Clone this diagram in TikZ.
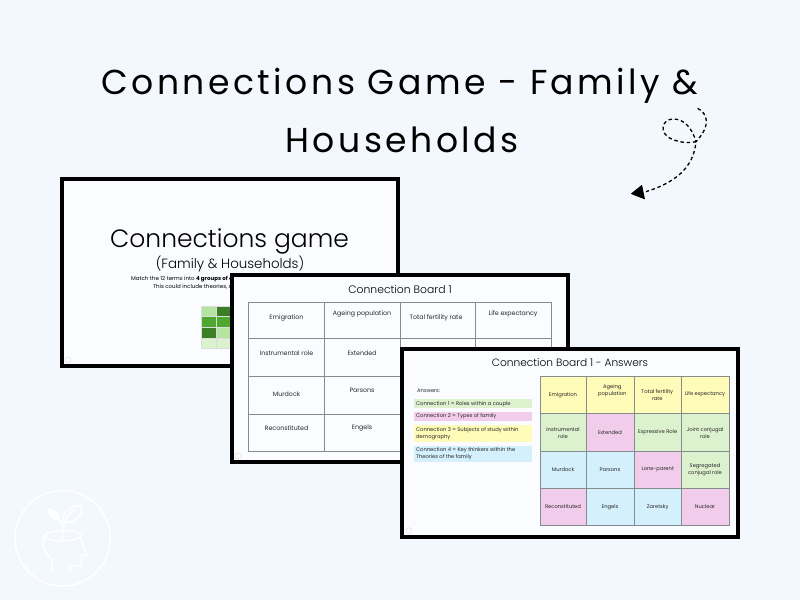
\documentclass[tikz,border=0pt]{standalone}
\usepackage{fontspec}
\setmainfont{Poppins}
\newfontfamily\titlefont[LetterSpace=10]{Poppins}
\newfontfamily\lightfont{Poppins Light}
\definecolor{pagebg}{HTML}{F3F8FF}
\definecolor{slidebg}{HTML}{FAFCFF}
\definecolor{grid}{HTML}{858C8E}
\definecolor{cy}{HTML}{FFFBB8}
\definecolor{cg}{HTML}{DCF2CF}
\definecolor{cp}{HTML}{F1CDEB}
\definecolor{cb}{HTML}{D4F0FC}
\definecolor{g1}{HTML}{B5E3A0}
\definecolor{g2}{HTML}{3B7F24}
\definecolor{g3}{HTML}{4EA72E}
\definecolor{g4}{HTML}{DCF2CF}
\tikzset{
  slide/.style={draw=black,line width=4pt,fill=slidebg},
  gridcell/.style={draw=grid,line width=0.7pt},
  titletext/.style={font=\titlefont\fontsize{34.6}{34.6}\selectfont,text=black,inner sep=0pt},
  cardlabel/.style={font=\fontsize{6.3}{8.6}\selectfont,text=black!85,align=center,inner sep=0pt},
  anslabel/.style={font=\fontsize{5.2}{7.2}\selectfont,text=black!85,align=center,inner sep=0pt},
  keylabel/.style={font=\fontsize{5.2}{7.2}\selectfont,text=black!85,align=left,anchor=west,inner sep=0pt},
  headline/.style={draw=white,line width=1.5pt,line cap=round,line join=round},
  dashline/.style={draw=black,line width=1.3pt,dash pattern=on 3.5pt off 2.8pt}
}
\newcommand{\cellbox}[5]{\filldraw[gridcell,fill=#5] (#1,#2) rectangle (#3,#4);}
\begin{document}
\begin{tikzpicture}[x=1pt,y=-1pt]
\useasboundingbox (0,0) rectangle (800,600);
\fill[pagebg] (0,0) rectangle (800,600);
% title
\node[titletext] (t1) at (400,86) {Connections Game - Family \&};
\node[titletext] (t2) at (402,140) {Households};
% dashed arrow
\begin{scope}[shift={(620,95)},x=0.3333pt,y=-0.3333pt]
\draw[dashline] (233,40) .. controls (262,55) and (275,90) .. (228,140)
  .. controls (215,95) and (190,72) .. (160,72)
  .. controls (125,72) and (115,115) .. (155,132)
  .. controls (180,143) and (205,145) .. (228,140)
  .. controls (222,200) and (190,255) .. (78,290);
\fill[black,line join=round,draw=black,line width=1pt] (65,272) -- (73,311) -- (35,296) -- cycle;
\end{scope}
% slide 1
\filldraw[slide] (62,179) rectangle (398,366);
\node[inner sep=0pt,font=\lightfont\fontsize{25}{25}\selectfont] (s1a) at (229.5,241.5) {Connections game};
\node[inner sep=0pt,font=\lightfont\fontsize{13.4}{13.4}\selectfont] (s1b) at (230,264) {(Family \& Households)};
\node[anchor=west,inner sep=0pt,font=\fontsize{5.5}{6}\selectfont] (s1c) at (131,279.5) {Match the 12 terms into \textbf{4 groups of 4}};
\node[anchor=west,inner sep=0pt,font=\fontsize{5.5}{6}\selectfont] (s1d) at (153,287) {This could include theories, so};
\begin{scope}[draw=white!70!grid,line width=0.4pt]
\filldraw[fill=g1] (201.5,306) rectangle (216,316.5);
\filldraw[fill=g2] (216,306) rectangle (231,316.5);
\filldraw[fill=g3] (201.5,316.5) rectangle (216,327.5);
\filldraw[fill=g3] (216,316.5) rectangle (231,327.5);
\filldraw[fill=g2] (201.5,327.5) rectangle (216,338);
\filldraw[fill=g1] (216,327.5) rectangle (231,338);
\filldraw[fill=g4] (201.5,338) rectangle (216,348.5);
\filldraw[fill=g4] (216,338) rectangle (231,348.5);
\end{scope}
\draw[draw=black!10,line width=0.6pt] (68,360) circle (3);
% slide 2
\filldraw[slide] (232,275) rectangle (568,462);
\node[inner sep=0pt,font=\lightfont\fontsize{10.8}{11}\selectfont] (s2t) at (400,289) {Connection Board 1};
\foreach \xa/\xb in {248/324.5,324.5/400,400/475.5,475.5/551}
  \foreach \ya/\yb in {302/338,338/376.5,376.5/414,414/451}
    \draw[gridcell] (\xa,\ya) rectangle (\xb,\yb);
\node[cardlabel] (b1) at (286.5,318) {Emigration};
\node[cardlabel] (b2) at (362,314) {Ageing population};
\node[cardlabel] (b3) at (436,318) {Total fertility rate};
\node[cardlabel] (b4) at (513,314) {Life expectancy};
\node[cardlabel] (b5) at (286.5,353) {Instrumental role};
\node[cardlabel] (b6) at (362,353) {Extended};
\node[cardlabel] (b7) at (286.5,394) {Murdock};
\node[cardlabel] (b8) at (362,390.5) {Parsons};
\node[cardlabel] (b9) at (286.5,428) {Reconstituted};
\node[cardlabel] (b10) at (362,428) {Engels};
\draw[draw=black!10,line width=0.6pt] (238,456) circle (3);
% slide 3
\filldraw[slide] (402,349) rectangle (738,537);
\node[inner sep=0pt,font=\lightfont\fontsize{10.6}{11}\selectfont] (s3t) at (570,363) {Connection Board 1 - Answers};
\node[keylabel] (k0) at (417,391) {Answers:};
\fill[cg] (413.5,399) rectangle (531.5,408);
\fill[cp] (413.5,411.5) rectangle (531.5,421);
\fill[cy] (413.5,425) rectangle (531.5,441.5);
\fill[cb] (413.5,445.5) rectangle (531.5,462);
\node[keylabel] (k1) at (416,403.7) {Connection 1 = Roles within a couple};
\node[keylabel] (k2) at (416,416.3) {Connection 2 = Types of family};
\node[keylabel] (k3) at (416,433.6) {Connection 3 = Subjects of study within\\demography};
\node[keylabel] (k4) at (416,453.6) {Connection 4 = Key thinkers within the\\Theories of the family};
\cellbox{540}{376.7}{586.5}{413.7}{cy}
\cellbox{586.5}{376.7}{634}{413.7}{cy}
\cellbox{634}{376.7}{681.5}{413.7}{cy}
\cellbox{681.5}{376.7}{729}{413.7}{cy}
\cellbox{540}{413.7}{586.5}{451}{cg}
\cellbox{586.5}{413.7}{634}{451}{cp}
\cellbox{634}{413.7}{681.5}{451}{cg}
\cellbox{681.5}{413.7}{729}{451}{cg}
\cellbox{540}{451}{586.5}{488}{cb}
\cellbox{586.5}{451}{634}{488}{cb}
\cellbox{634}{451}{681.5}{488}{cp}
\cellbox{681.5}{451}{729}{488}{cg}
\cellbox{540}{488}{586.5}{525}{cp}
\cellbox{586.5}{488}{634}{525}{cb}
\cellbox{634}{488}{681.5}{525}{cb}
\cellbox{681.5}{488}{729}{525}{cp}
\node[anslabel] (a1) at (563,395.3) {Emigration};
\node[anslabel] (a2) at (612.3,390.7) {Ageing\\population};
\node[anslabel] (a3) at (657.3,395) {Total fertility\\rate};
\node[anslabel] (a4) at (705,393.7) {Life expectancy};
\node[anslabel] (a5) at (563,432.7) {Instrumental\\role};
\node[anslabel] (a6) at (610,432.7) {Extended};
\node[anslabel] (a7) at (657.7,432.3) {Expressive Role};
\node[anslabel] (a8) at (705,432.7) {Joint conjugal\\role};
\node[anslabel] (a9) at (563,469.7) {Murdock};
\node[anslabel] (a10) at (610,469.7) {Parsons};
\node[anslabel] (a11) at (657.7,469.7) {Lone-parent};
\node[anslabel] (a12) at (705,469.7) {Segregated\\conjugal role};
\node[anslabel] (a13) at (563,507) {Reconstituted};
\node[anslabel] (a14) at (610,507) {Engels};
\node[anslabel] (a15) at (657.7,507) {Zaretsky};
\node[anslabel] (a16) at (705,507) {Nuclear};
\draw[draw=black!10,line width=0.6pt] (409,530.7) circle (3);
% head logo
\draw[headline] (62.7,538.3) circle (47.7);
\begin{scope}[shift={(0,500)},x=0.3333pt,y=-0.3333pt]
\draw[headline] (188,107) ellipse [x radius=55,y radius=15];
\draw[headline] (133,107) .. controls (128,125) and (128,140) .. (140,160) .. controls (150,172) and (158,180) .. (157,195) -- (155,218);
\draw[headline] (243,107) .. controls (244,125) and (250,140) .. (262,163) -- (245,167) -- (245,197) -- (212,200) -- (210,218);
\draw[headline] (188,122) -- (188,78) .. controls (186,70) and (182,62) .. (176,55);
\draw[headline] (191,72) .. controls (197,55) and (205,45) .. (220,30);
\filldraw[headline,fill=white] (145,26) .. controls (160,28) and (176,40) .. (178,60) .. controls (160,60) and (146,45) .. (145,26) -- cycle;
\draw[headline] (192,66) .. controls (182,35) and (215,18) .. (246,15) .. controls (248,45) and (225,75) .. (192,66) -- cycle;
\end{scope}
\end{tikzpicture}
\end{document}
